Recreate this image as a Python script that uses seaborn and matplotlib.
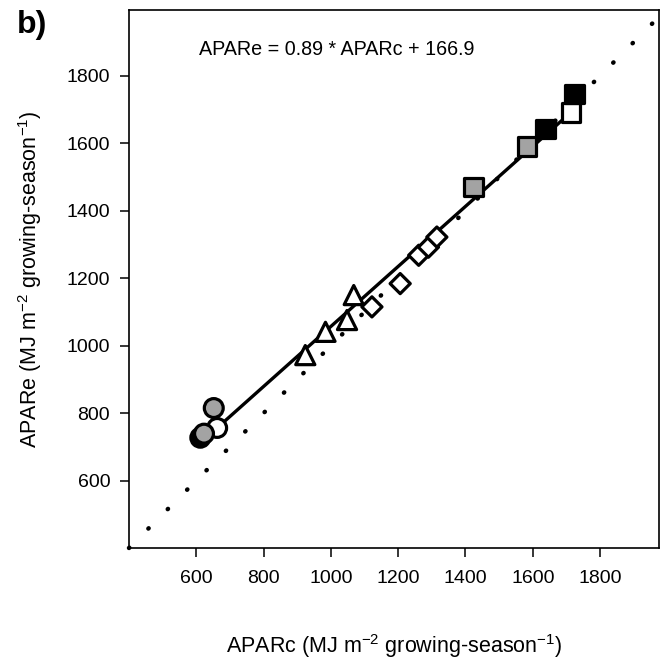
import matplotlib
matplotlib.use("Agg")
import matplotlib.pyplot as plt
import seaborn as sns
import pandas as pd

# ---- data ----
circle_x = [612, 662, 623, 652]
circle_y = [727, 756, 739, 815]
circle_fill = ["black", "white", "gray", "gray"]

triangle_x = [924, 984, 1048, 1068]
triangle_y = [972, 1041, 1076, 1150]
triangle_fill = ["white", "white", "white", "white"]

diamond_x = [1122, 1206, 1261, 1290, 1315]
diamond_y = [1115, 1184, 1268, 1292, 1322]
diamond_fill = ["white", "white", "white", "white", "white"]

square_x = [1424, 1582, 1638, 1714, 1724]
square_y = [1470, 1590, 1643, 1691, 1747]
square_fill = ["gray", "gray", "black", "white", "black"]

slope = 0.89
intercept = 166.9
equation = "APARe = 0.89 * APARc + 166.9"

one_to_one = [400, 2000]
x_ticks = [600, 800, 1000, 1200, 1400, 1600, 1800]
y_ticks = [600, 800, 1000, 1200, 1400, 1600, 1800]

# ---- build table ----
frames = []
for shape, xs, ys, fs in [("circle", circle_x, circle_y, circle_fill),
                          ("triangle", triangle_x, triangle_y, triangle_fill),
                          ("diamond", diamond_x, diamond_y, diamond_fill),
                          ("square", square_x, square_y, square_fill)]:
    frames.append(pd.DataFrame({"APARc": xs, "APARe": ys, "shape": shape, "fill": fs}))
df = pd.concat(frames, ignore_index=True)

sns.set_theme(style="ticks")
plt.rcParams["font.family"] = ["Liberation Sans", "DejaVu Sans"]
plt.rcParams["mathtext.fontset"] = "custom"
plt.rcParams["mathtext.rm"] = "Liberation Sans"
plt.rcParams["mathtext.it"] = "Liberation Sans"
plt.rcParams["text.color"] = "black"
plt.rcParams["axes.labelcolor"] = "black"
plt.rcParams["xtick.color"] = "black"
plt.rcParams["ytick.color"] = "black"

fig = plt.figure(figsize=(6.7, 6.6), dpi=100)
ax = fig.add_axes([0.1925, 0.1697, 0.791, 0.815])

# 1:1 dotted line
ax.plot(one_to_one, one_to_one, color="black", linewidth=3.2,
        linestyle=(0, (0.1, 6.07)), dash_capstyle="round", zorder=1, clip_on=False)

# regression line
xmin, xmax = df["APARc"].min(), df["APARc"].max()
ax.plot([xmin, xmax], [slope * xmin + intercept, slope * xmax + intercept],
        color="black", linewidth=2.4, solid_capstyle="butt", zorder=2)

palette = {"black": "black", "gray": "#a3a3a3", "white": "white"}
marker_map = {"circle": "o", "triangle": "^", "diamond": "D", "square": "s"}
size_map = {"circle": 185, "triangle": 190, "diamond": 105, "square": 175}

for shape in ["circle", "triangle", "diamond", "square"]:
    sub = df[df["shape"] == shape]
    sns.scatterplot(data=sub, x="APARc", y="APARe", hue="fill", palette=palette,
                    marker=marker_map[shape], s=size_map[shape], edgecolor="black",
                    linewidth=2.3, legend=False, ax=ax, zorder=3)

ax.set_xlim(400, 1975)
ax.set_ylim(400, 1995)
ax.set_xticks(x_ticks)
ax.set_yticks(y_ticks)
ax.tick_params(axis="both", which="major", labelsize=14, length=6.5, width=1.1,
               direction="out", colors="black")
ax.tick_params(axis="x", pad=9)
ax.tick_params(axis="y", pad=7)
for sp in ax.spines.values():
    sp.set_visible(True)
    sp.set_linewidth(1.2)
    sp.set_color("black")

ax.set_xlabel(r"APARc (MJ m$^{-2}$ growing-season$^{-1}$)", fontsize=15.5,
              labelpad=33, color="black")
ax.set_ylabel(r"APARe (MJ m$^{-2}$ growing-season$^{-1}$)", fontsize=15.5,
              labelpad=16, color="black")

ax.text(0.1326, 0.916, equation, transform=ax.transAxes, fontsize=14.2,
        ha="left", va="baseline", color="black")

fig.text(17 / 670, 1 - 33 / 660, "b)", fontsize=23, fontweight="bold",
         ha="left", va="baseline", color="black")

fig.savefig("out.png", dpi=100)
